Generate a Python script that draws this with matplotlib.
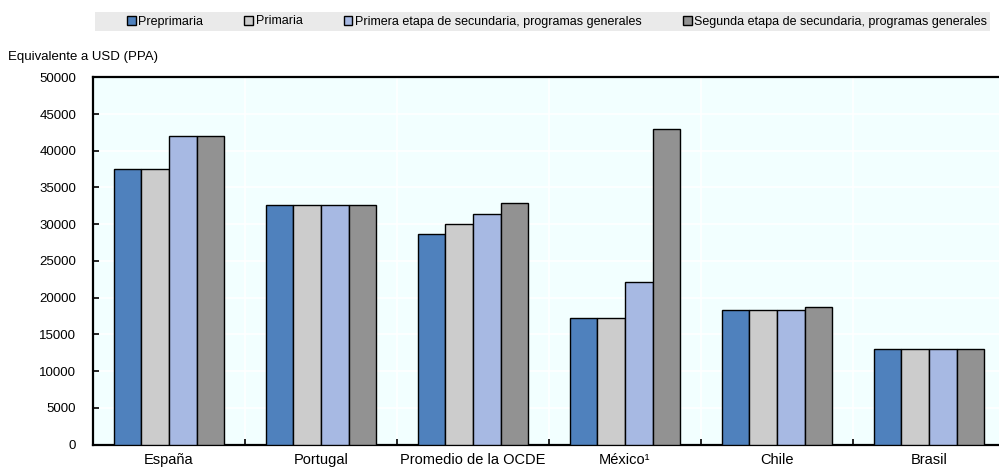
import matplotlib
matplotlib.use("Agg")
import matplotlib.pyplot as plt
import numpy as np
from matplotlib.patches import Rectangle, Patch

plt.rcParams['font.family'] = ['Liberation Sans Narrow', 'Liberation Sans', 'DejaVu Sans']

categories = ["España", "Portugal", "Promedio de la OCDE", "México¹", "Chile", "Brasil"]
series_names = ["Preprimaria", "Primaria",
                "Primera etapa de secundaria, programas generales",
                "Segunda etapa de secundaria, programas generales"]
preprimaria = [37500, 32600, 28600, 17200, 18300, 13000]
primaria = [37500, 32600, 30050, 17200, 18300, 13000]
primera_sec = [42000, 32600, 31350, 22150, 18300, 13000]
segunda_sec = [42000, 32600, 32850, 42900, 18750, 13000]
yticks = [0, 5000, 10000, 15000, 20000, 25000, 30000, 35000, 40000, 45000, 50000]

colors = ["#4F81BD", "#CCCCCC", "#A7B9E3", "#929292"]
series = [preprimaria, primaria, primera_sec, segunda_sec]

fig = plt.figure(figsize=(9.99, 4.68), dpi=100)
W, H = 999, 468
left, right, top, bottom = 93, 1005, 77.3, 444.5
ax = fig.add_axes([left / W, 1 - bottom / H, (right - left) / W, (bottom - top) / H])
ax.set_facecolor("#F2FFFF")

x = np.arange(len(categories))
bw = 0.1825
for i, (vals, c) in enumerate(zip(series, colors)):
    ax.bar(x + (i - 1.5) * bw, vals, width=bw, color=c, edgecolor="black",
           linewidth=1.0, zorder=3, label=series_names[i])

ax.set_xlim(-0.5, len(categories) - 0.5)
ax.set_ylim(0, 50000)
ax.set_yticks(yticks)
ax.set_yticklabels([str(v) for v in yticks], fontsize=9.5)
ax.set_xticks(x)
ax.set_xticklabels(categories, fontsize=10.5)
ax.tick_params(axis="x", length=0, pad=6)
ax.set_xticks(np.arange(0.5, len(categories) - 0.5, 1), minor=True)
ax.tick_params(axis="x", which="minor", direction="in", length=4, width=1.2, color="black")
ax.tick_params(axis="y", direction="in", length=4, width=1.2, pad=12)

ax.grid(axis="y", color="white", linewidth=1.2, zorder=0)
ax.grid(axis="x", which="minor", color="white", linewidth=1.2, zorder=0)
ax.set_axisbelow(True)

for s in ["left", "bottom", "top"]:
    ax.spines[s].set_linewidth(1.6)
    ax.spines[s].set_color("black")
ax.spines["right"].set_visible(False)

fig.text(8 / W, 1 - 57 / H, "Equivalente a USD (PPA)", fontsize=9.5, va="center", ha="left")

# legend background
fig.patches.append(Rectangle((95 / W, 1 - 31 / H), (990 - 95) / W, 19 / H,
                             transform=fig.transFigure, facecolor="#EAEAEA",
                             edgecolor="none", zorder=0))
handles = [Patch(facecolor=c, edgecolor="black", linewidth=1.0) for c in colors]
leg = fig.legend(handles, series_names, loc="center", ncol=4,
                 bbox_to_anchor=(557 / W, 1 - 21.5 / H), frameon=False,
                 fontsize=9, handlelength=0.7, handleheight=0.7,
                 handletextpad=0.2, columnspacing=3.3, borderaxespad=0)

fig.savefig("out.png", dpi=100)
